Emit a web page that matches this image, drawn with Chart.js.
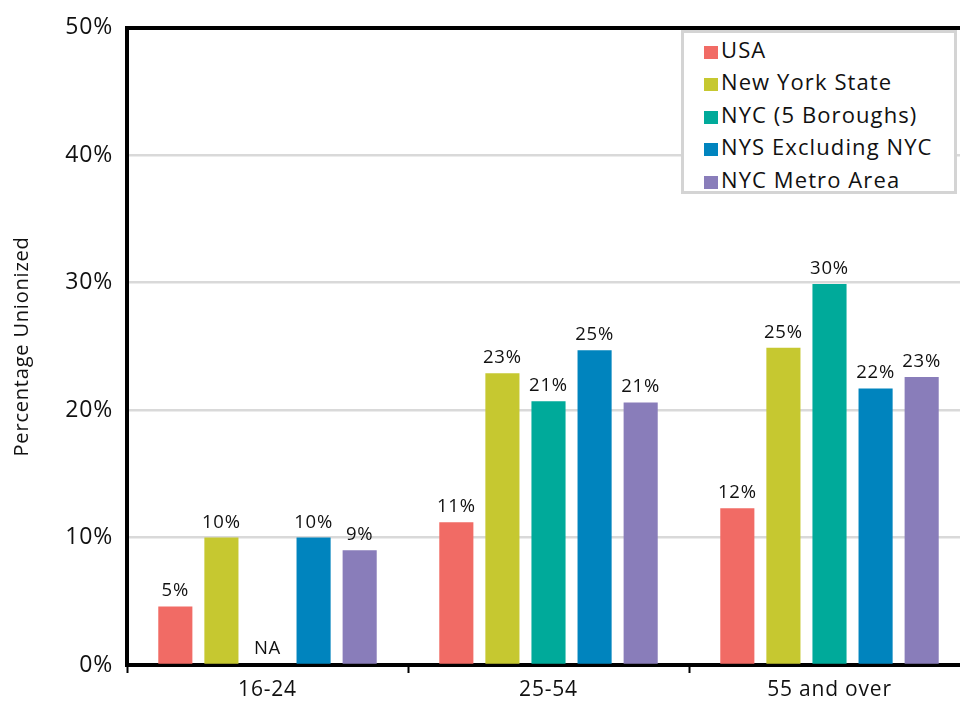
<!DOCTYPE html>
<html>
<head>
<meta charset="utf-8">
<script src="https://cdn.jsdelivr.net/npm/chart.js@4"></script>
<style>
  body { margin: 0; overflow: hidden; background: #fff; }
  #wrap { position: relative; width: 970px; height: 706px; }
  #legend {
    position: absolute; left: 681px; top: 30px; width: 270px; height: 158px;
    border: 3px solid #d4d4d4; background: #fff;
    font-family: "Open Sans", sans-serif; font-size: 22px; letter-spacing: 1.1px; color: #111;
  }
  #legend div { height: 32.4px; line-height: 32.4px; padding-left: 20px; white-space: nowrap; }
  #legend span.sw { display: inline-block; width: 14px; height: 13px; margin-right: 3px; vertical-align: -1px; }
</style>
</head>
<body>
<div id="wrap">
  <canvas id="unionChart" width="970" height="706"></canvas>
  <div id="legend"></div>
</div>
<script>
// ----------------------
// DATA
// ----------------------
const ageGroups = ['16-24', '25-54', '55 and over'];
const seriesNames = ['USA', 'New York State', 'NYC (5 Boroughs)', 'NYS Excluding NYC', 'NYC Metro Area'];
const usa     = [4.6, 11.2, 12.3];
const nys     = [10.0, 22.9, 24.9];
const nyc     = [null, 20.7, 29.9];   // 16-24 not available
const nysExcl = [10.0, 24.7, 21.7];
const metro   = [9.0, 20.6, 22.6];
const yTicks  = [0, 10, 20, 30, 40, 50];

const colors = ['#F16B65', '#C6C830', '#00AA9A', '#0084BE', '#897DBA'];
const seriesValues = [usa, nys, nyc, nysExcl, metro];

const FONT = '"Open Sans", sans-serif';

// slightly wider text everywhere on the canvas
const textSpacing = {
  id: 'textSpacing',
  beforeDraw(chart) { chart.ctx.letterSpacing = '0.8px'; }
};

// value labels above bars, "NA" where a value is missing
const barLabels = {
  id: 'barLabels',
  afterDatasetsDraw(chart) {
    const ctx = chart.ctx;
    const yScale = chart.scales.y;
    ctx.save();
    ctx.font = '18.5px ' + FONT;
    ctx.fillStyle = '#111';
    ctx.textAlign = 'center';
    ctx.textBaseline = 'bottom';
    chart.data.datasets.forEach((ds, i) => {
      const meta = chart.getDatasetMeta(i);
      meta.data.forEach((bar, j) => {
        const v = ds.data[j];
        if (v == null) {
          ctx.fillText('NA', bar.x, yScale.getPixelForValue(0) - 7);
        } else {
          ctx.fillText(Math.round(v) + '%', bar.x, bar.y - 6);
        }
      });
    });
    ctx.restore();
  }
};

const ctx = document.getElementById('unionChart').getContext('2d');

const chart = new Chart(ctx, {
  type: 'bar',
  data: {
    labels: ageGroups,
    datasets: seriesNames.map((name, i) => ({
      label: name,
      data: seriesValues[i],
      backgroundColor: colors[i],
      borderWidth: 0,
      categoryPercentage: 0.82,
      barPercentage: 0.74
    }))
  },
  options: {
    responsive: false,
    animation: false,
    layout: { padding: { top: 21, right: 0, bottom: 0, left: 0 } },
    plugins: {
      legend: { display: false },
      tooltip: { enabled: false }
    },
    scales: {
      x: {
        grid: {
          display: true,
          offset: true,
          drawOnChartArea: false,
          drawTicks: true,
          tickLength: 8,
          tickColor: '#000',
          tickWidth: 2
        },
        border: { display: true, color: '#000', width: 4 },
        ticks: { color: '#111', font: { family: FONT, size: 21 }, padding: 4 },
        afterFit(scale) { scale.height = 41; }
      },
      xTop: {
        position: 'top',
        grid: { display: false },
        border: { display: true, color: '#000', width: 4 },
        ticks: { display: false },
        afterFit(scale) { scale.height = 0; }
      },
      y: {
        min: 0,
        max: 50,
        afterBuildTicks(scale) { scale.ticks = yTicks.map(v => ({ value: v })); },
        grid: { color: '#d9d9d9', lineWidth: 2.5, drawTicks: false },
        border: { display: true, color: '#000', width: 4 },
        ticks: {
          color: '#111',
          font: { family: FONT, size: 23 },
          padding: 14,
          callback: v => v + '%'
        },
        title: {
          display: true,
          text: 'Percentage Unionized',
          color: '#111',
          font: { family: FONT, size: 20 },
          padding: { top: 10, bottom: 0 }
        },
        afterFit(scale) { scale.width = 127; }
      }
    }
  },
  plugins: [textSpacing, barLabels]
});

// legend box inside the plot
const legendEl = document.getElementById('legend');
chart.data.datasets.forEach(ds => {
  const row = document.createElement('div');
  const sw = document.createElement('span');
  sw.className = 'sw';
  sw.style.background = ds.backgroundColor;
  row.appendChild(sw);
  row.appendChild(document.createTextNode(ds.label));
  legendEl.appendChild(row);
});
</script>
</body>
</html>
